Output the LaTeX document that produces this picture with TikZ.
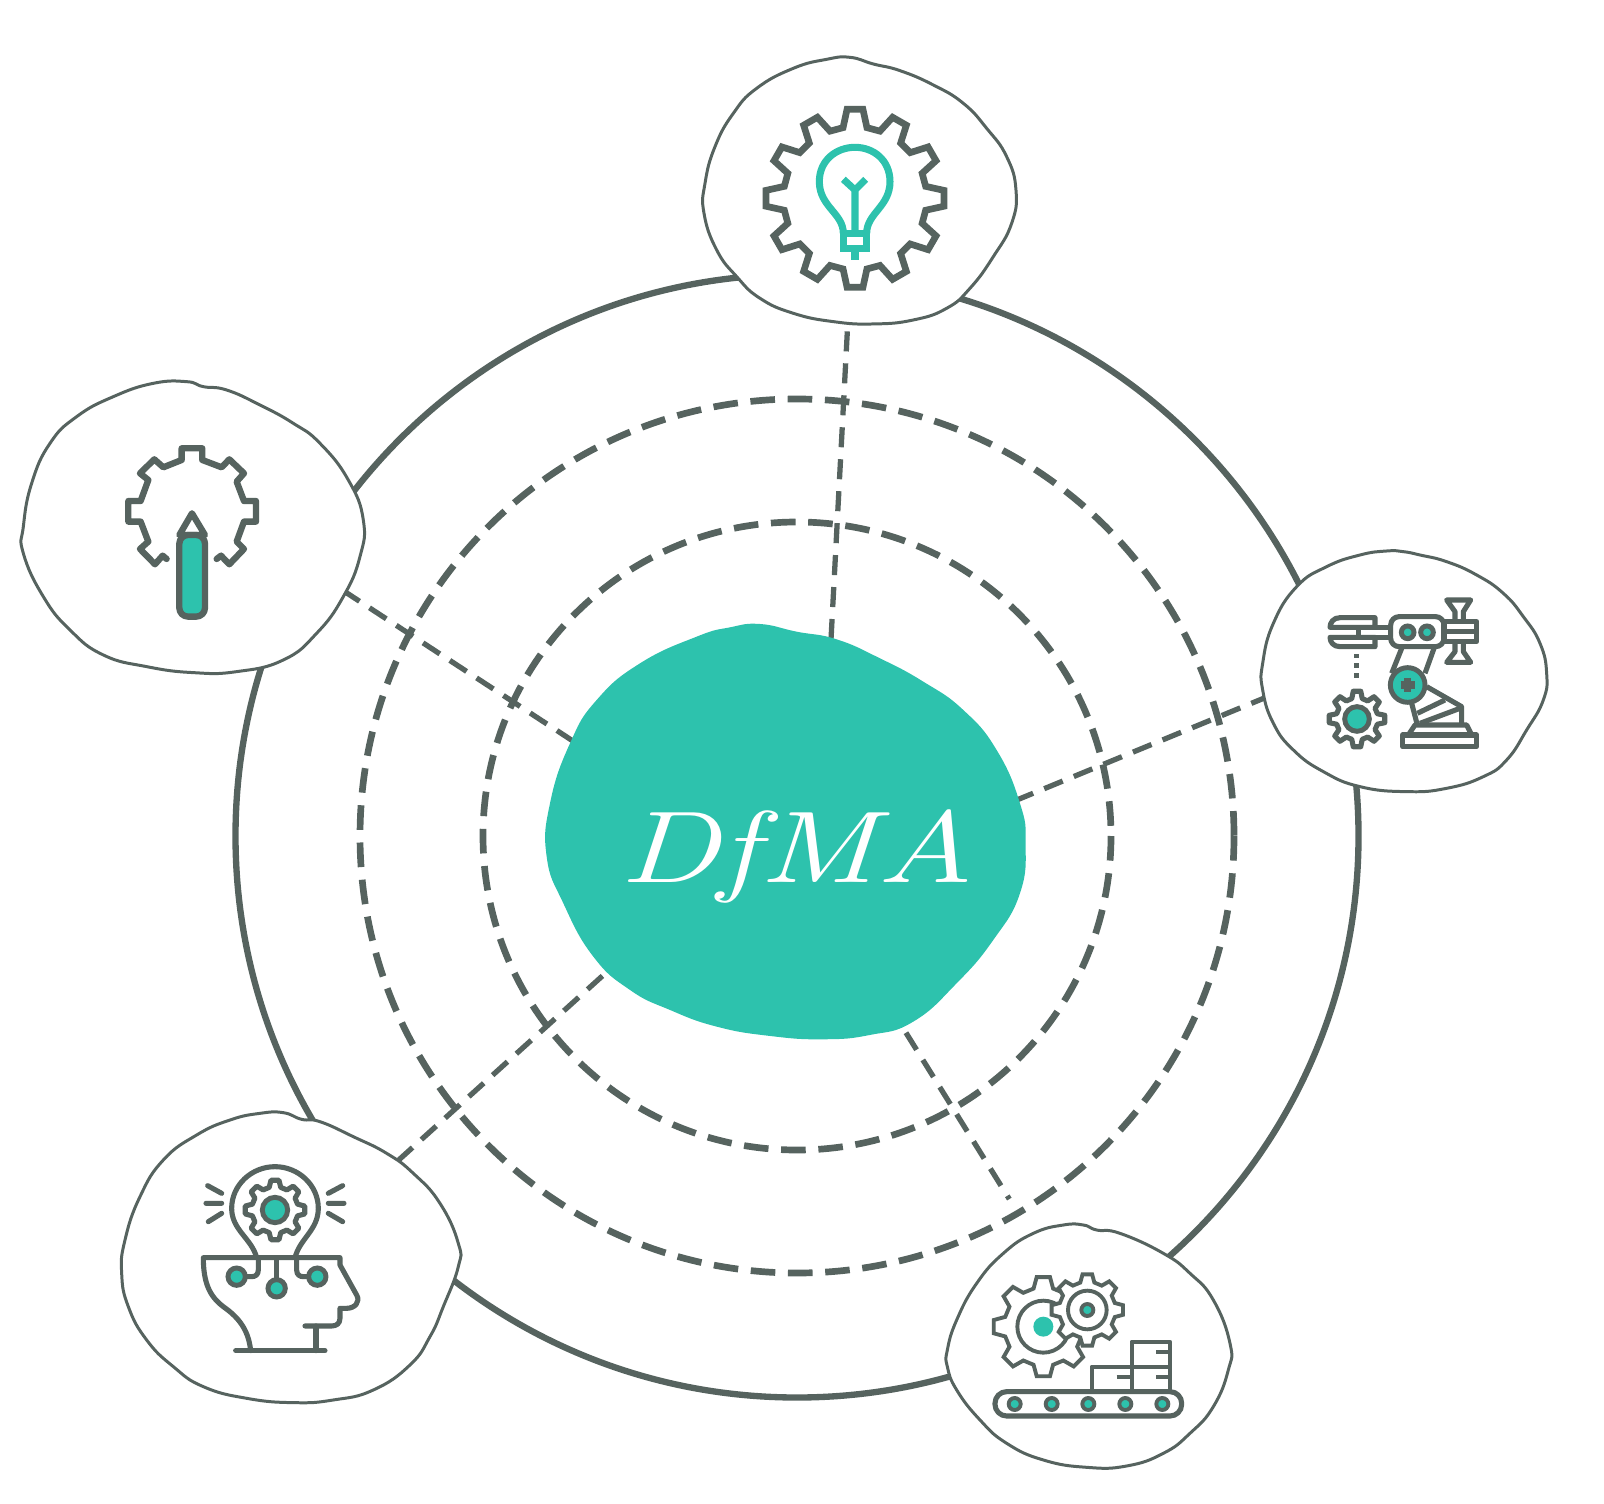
\documentclass[tikz,border=0pt]{standalone}
\usepackage{tikz}
\usetikzlibrary{positioning,calc}

\definecolor{slate}{HTML}{56635F}
\definecolor{mint}{HTML}{2DC2AD}

% gear outline: style, centre, teeth, tip radius, root radius
\newcommand{\drawgear}[5]{%
  \draw[#1, shift={#2}] ({0.32*360/#3}:#5)
    \foreach \t in {1,...,#3}{
      -- ({(\t-0.32)*360/#3}:#5) -- ({(\t-0.17)*360/#3}:#4)
      -- ({(\t+0.17)*360/#3}:#4) -- ({(\t+0.32)*360/#3}:#5)
    } -- cycle;
}

\tikzset{
  spot/.style={circle, inner sep=0pt, outer sep=0pt, minimum size=#1},
  bubble/.style={draw=slate, fill=white, line width=0.85pt},
  ringline/.style={draw=slate, line width=1.8pt},
  ringdash/.style={draw=slate, line width=1.9pt, dash pattern=on 7pt off 3.6pt},
  linkdash/.style={draw=slate, line width=1.5pt, dash pattern=on 5.7pt off 3.4pt},
  icon/.style={draw=slate, line width=#1, line join=round},
  icon/.default=1.45pt,
  bulb/.style={draw=mint, line width=2pt, line join=miter},
  dot/.style={draw=slate, fill=mint, line width=1.4pt},
  zoomed/.style={shift={#1}, scale=0.3333},
}

\begin{document}
\begin{tikzpicture}[x=0.01cm, y=-0.01cm]
  \useasboundingbox (0,0) rectangle (1604,1504);

  % anchors only, the outlines come later
  \node[spot=4cm] (hub) at (786,834) {};
  \node[spot=2cm] (idea) at (860,190) {};
  \node[spot=2cm] (pencil) at (193.5,526) {};
  \node[spot=2cm] (robot) at (1404,671) {};
  \node[spot=2cm] (head) at (290,1258) {};
  \node[spot=2cm] (belt) at (1090,1345) {};

  % rings
  \coordinate (rings) at (797,836);
  \draw[ringline] (rings) circle (561.5);
  \draw[ringdash] (rings) circle (437);
  \draw[ringdash] (rings) circle (314);

  % links
  \draw[linkdash] (hub.77.7) -- (idea.264.9);
  \draw[linkdash] (hub.158.3) -- (pencil.343.2);
  \draw[linkdash] (hub.6.3) -- (robot.186.9);
  \draw[linkdash] (hub.217.6) -- (head.42.6);
  \draw[linkdash, shorten >=19pt] (hub.301.5) -- (belt.117.3);

  % centre blob
  \begin{scope}[zoomed={(530,610)}]
    \fill[mint] plot[smooth cycle, tension=0.8] coordinates {(690,42) (800,65) (920,88) (1050,145) (1180,215)
      (1300,300) (1400,420) (1470,580) (1487,700) (1470,850) (1390,990) (1280,1120) (1150,1235) (1020,1275)
      (880,1288) (720,1278) (560,1250) (420,1200) (300,1140) (190,1040) (100,880) (50,740) (60,580) (120,400)
      (200,270) (330,160) (500,80) (600,52)};
  \end{scope}
  \node[text=white, font=\fontsize{29}{29}\selectfont\itshape, xscale=1.32, transform shape] (title) at (797,856) {DfMA};

  % bulb in a gear
  \begin{scope}[zoomed={(700,50)}]
    \draw[bubble] plot[smooth cycle, tension=0.8] coordinates {(450,22) (520,42) (600,62) (700,105) (790,160)
      (860,235) (920,320) (948,420) (935,520) (880,620) (810,715) (740,775) (640,810) (520,822) (400,815)
      (280,790) (180,745) (110,680) (50,600) (12,490) (15,400) (45,290) (100,190) (170,115) (280,55) (380,28)};
    \drawgear{icon=1.9pt, line join=miter}{(465,445)}{12}{268}{215}
    \draw[bulb] (430,550) .. controls (430,490) and (358,470) .. (358,395)
      .. controls (358,330) and (410,292) .. (465,292)
      .. controls (520,292) and (570,330) .. (570,395)
      .. controls (570,470) and (500,490) .. (500,550);
    \draw[bulb] (430,550) rectangle (500,595);
    \draw[bulb] (465,595) -- (465,630);
    \draw[bulb] (465,550) -- (465,420) (430,388) -- (465,420) -- (497,388);
  \end{scope}

  % pencil in an open gear
  \begin{scope}[zoomed={(20,380)}]
    \draw[bubble] plot[smooth cycle, tension=0.8] coordinates {(500,5) (550,20) (620,30) (720,75) (820,130)
      (900,190) (985,300) (1030,420) (1020,530) (970,650) (890,760) (790,840) (650,875) (520,878) (380,860)
      (250,825) (150,750) (70,650) (10,520) (10,440) (35,310) (90,190) (170,110) (280,50) (400,10)};
    \draw[icon=1.8pt, line cap=round] (440,537) -- (428,527) -- (405,553) -- (360,507) -- (385,485) -- (362,425)
      -- (325,425) -- (325,363) -- (362,363) -- (385,300) -- (360,280) -- (403,238) -- (430,262) -- (485,240)
      -- (485,205) -- (547,205) -- (547,240) -- (605,262) -- (628,238) -- (672,280) -- (650,305) -- (672,363)
      -- (708,363) -- (708,425) -- (672,425) -- (650,485) -- (672,507) -- (628,553) -- (603,527) -- (590,537);
    \draw[icon=1.8pt] (478,465) -- (516,400) -- (555,465) -- cycle;
    \draw[icon=1.8pt, fill=mint, rounded corners=2.5pt] (478,465) rectangle (555,710);
  \end{scope}

  % robot arm
  \begin{scope}[zoomed={(1260,550)}]
    \draw[bubble] plot[smooth cycle, tension=0.8] coordinates {(430,5) (480,15) (560,35) (650,75) (730,130)
      (790,200) (840,280) (860,370) (850,450) (800,540) (740,630) (670,680) (560,715) (440,725) (300,710)
      (190,665) (100,600) (40,520) (8,420) (8,340) (40,220) (110,110) (200,50) (300,15) (380,3)};
    \draw[icon] (345,232) -- (345,203) -- (240,203) .. controls (220,203) and (210,218) .. (210,232) -- cycle;
    \draw[icon] (345,262) -- (345,290) -- (240,290) .. controls (220,290) and (210,276) .. (210,262) -- cycle;
    \draw[icon] (392,232) -- (295,232) -- (295,262) -- (392,262);
    \draw[icon, rounded corners=2.4pt] (392,200) rectangle (552,290);
    \foreach \x in {443,501}{
      \draw[dot] (\x,247) circle (19);
    }
    \draw[icon] (552,215) rectangle (650,275) (552,245) -- (650,245);
    \draw[icon] (585,215) -- (585,185) -- (560,150) -- (632,150) -- (610,185) -- (610,215);
    \draw[icon] (585,275) -- (585,305) -- (560,337) -- (632,337) -- (610,305) -- (610,275);
    \draw[icon] (425,295) -- (395,370) (522,295) -- (495,370);
    \draw[icon] (500,410) -- (605,470) -- (605,525) (455,460) -- (472,525);
    \draw[icon] (472,490) -- (555,450) (480,520) -- (600,475);
    \draw[dot] (443,405) circle (52);
    \draw[icon=2pt] (422,405) -- (464,405) (443,384) -- (443,426);
    \draw[icon] (445,555) -- (465,525) -- (620,525) -- (635,555);
    \draw[icon] (428,555) rectangle (650,590);
    \foreach \y in {318,347,377}{
      \fill[slate] (283,\y-7) rectangle (297,\y+7);
    }
    \drawgear{icon}{(291,507)}{8}{84}{63}
    \draw[dot] (291,507) circle (37);
  \end{scope}

  % head with a gear idea
  \begin{scope}[zoomed={(120,1110)}]
    \draw[bubble] plot[smooth cycle, tension=0.8] coordinates {(490,8) (545,28) (600,35) (700,80) (800,130)
      (880,190) (960,280) (1015,400) (1015,470) (970,590) (930,680) (870,765) (760,840) (640,870) (520,878)
      (380,865) (250,830) (160,770) (80,690) (25,590) (5,490) (15,390) (60,260) (130,150) (230,75) (330,30) (420,10)};
    \draw[icon, line cap=round] (392,722) .. controls (385,650) and (345,615) .. (310,590)
      .. controls (270,560) and (250,520) .. (250,443) -- (660,443) -- (660,465)
      -- (710,555) .. controls (722,575) and (705,595) .. (680,595) -- (660,595) -- (660,625)
      .. controls (660,640) and (650,648) .. (635,648) -- (555,648);
    \draw[icon, line cap=round] (588,648) -- (588,722) (347,722) -- (615,722);
    \draw[icon] (410,443) .. controls (395,385) and (335,360) .. (335,295)
      .. controls (335,225) and (395,170) .. (465,170)
      .. controls (535,170) and (595,225) .. (595,295)
      .. controls (595,360) and (540,385) .. (525,443);
    \drawgear{icon}{(465,300)}{8}{90}{70}
    \draw[dot] (465,300) circle (38);
    \draw[icon] (415,443) -- (415,480) .. controls (415,495) and (405,500) .. (395,500) -- (375,500);
    \draw[icon] (470,443) -- (470,510);
    \draw[icon] (530,443) -- (530,480) .. controls (530,495) and (540,500) .. (550,500) -- (565,500);
    \foreach \x/\y in {350/500,470/535,592/500}{
      \draw[dot] (\x,\y) circle (26);
    }
    \draw[icon, line cap=round] (263,227) -- (305,250) (258,280) -- (305,280) (265,335) -- (305,310);
    \draw[icon, line cap=round] (625,250) -- (668,227) (625,280) -- (672,280) (625,310) -- (668,335);
  \end{scope}

  % gears over a conveyor
  \begin{scope}[zoomed={(950,1220)}]
    \draw[bubble] plot[smooth cycle, tension=0.8] coordinates {(400,15) (440,30) (510,40) (640,100) (720,160)
      (790,240) (840,370) (835,450) (790,560) (720,640) (640,700) (530,738) (410,742) (280,720) (170,670)
      (90,600) (20,510) (-8,440) (-8,390) (20,300) (80,190) (160,100) (250,40) (340,15)};
    \drawgear{icon=1.1pt, line join=miter}{(280,320)}{8}{150}{118}
    \draw[icon=1.1pt] (280,320) circle (78);
    \fill[mint] (280,320) circle (30);
    \drawgear{icon=1.1pt, line join=miter, fill=white}{(412,270)}{8}{108}{85}
    \draw[icon=1.1pt] (412,270) circle (58);
    \draw[dot, line width=1.1pt] (412,270) circle (18);
    \draw[icon=1.1pt] (425,515) -- (425,440) -- (660,440) (545,515) -- (545,365) -- (660,365) -- (660,515);
    \foreach \x/\y/\xx in {500/470/545,618/395/660,618/470/660}{
      \draw[icon=1.1pt] (\x,\y) -- (\xx,\y);
    }
    \draw[icon, rounded corners=3.3pt] (135,515) rectangle (695,588);
    \foreach \x in {194,305,415,526,637}{
      \draw[dot, line width=1.1pt] (\x,552) circle (18);
    }
  \end{scope}
\end{tikzpicture}
\end{document}
